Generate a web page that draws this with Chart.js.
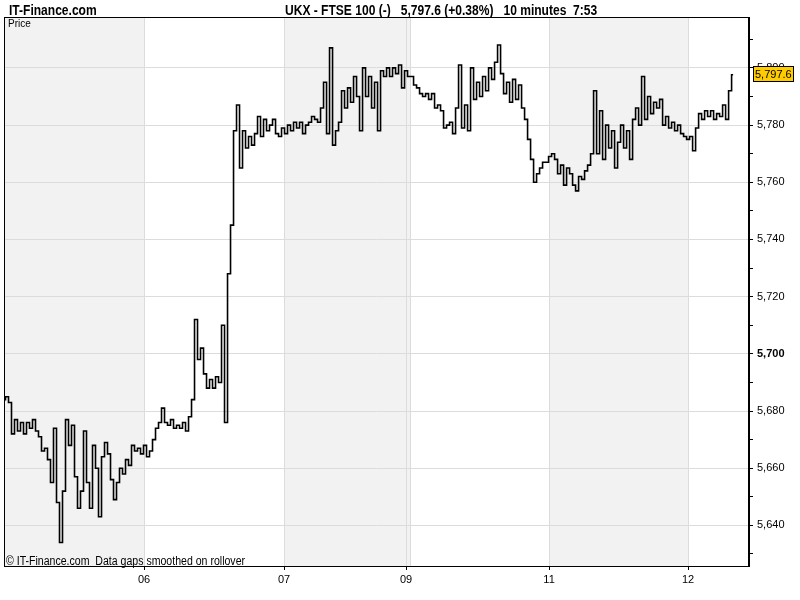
<!DOCTYPE html>
<html>
<head>
<meta charset="utf-8">
<script src="https://cdn.jsdelivr.net/npm/chart.js@4/dist/chart.umd.min.js"></script>
<style>
html, body { margin: 0; padding: 0; background: #fff; }
#wrap { position: relative; width: 800px; height: 600px; }
canvas { position: absolute; left: 0; top: 0; }
.t { position: absolute; font-family: 'Liberation Sans', Arial, sans-serif; color: #000; white-space: pre; line-height: 1; transform-origin: 0 0; }
.n { transform: scaleX(0.86); }
</style>
</head>
<body>
<div id="wrap">
  <canvas id="chart" width="800" height="600"></canvas>
  <div class="t n" style="left:9px;top:3px;font-size:14px;font-weight:bold">IT-Finance.com</div>
  <div class="t n" style="left:285px;top:3px;font-size:14px;font-weight:bold">UKX - FTSE 100 (-)   5,797.6 (+0.38%)   10 minutes  7:53</div>
  <div class="t" style="left:8px;top:19px;font-size:10px">Price</div>
  <div class="t n" style="left:6px;top:555px;font-size:12px;transform:scaleX(0.88)">© IT-Finance.com  Data gaps smoothed on rollover</div>
</div>
<script>
(function () {
    'use strict';

    // 10 minute closes, one list per session
    const day05 = [5684, 5685, 5683, 5672, 5677, 5673, 5676, 5672, 5676, 5674,
        5677, 5673, 5671, 5666, 5667, 5663, 5655, 5674, 5648, 5634,
        5652, 5677, 5668, 5675, 5657, 5646, 5652, 5673, 5655, 5646,
        5668, 5660, 5643, 5664, 5669, 5665, 5656, 5649, 5655, 5660,
        5658, 5663, 5661, 5668, 5666, 5667, 5665];
    const day06 = [5668, 5664, 5666, 5670, 5674, 5676, 5681, 5676, 5675, 5677,
        5674, 5675, 5674, 5676, 5673, 5678, 5684, 5712, 5698, 5702,
        5693, 5688, 5691, 5688, 5692, 5690, 5710, 5676, 5728, 5745,
        5778, 5787, 5765, 5778, 5772, 5776, 5773, 5777, 5783, 5776,
        5782, 5778, 5780, 5782, 5777, 5776, 5779];
    const day07 = [5777, 5780, 5778, 5781, 5779, 5781, 5777, 5780, 5781, 5783,
        5782, 5781, 5786, 5795, 5777, 5807, 5773, 5778, 5781, 5792,
        5786, 5793, 5788, 5797, 5790, 5778, 5800, 5790, 5797, 5786,
        5795, 5778, 5799, 5797, 5800, 5797, 5800, 5798, 5801, 5793,
        5799];
    const day09 = [5797, 5797, 5794, 5793, 5791, 5790, 5791, 5789, 5791, 5786,
        5787, 5785, 5779, 5780, 5781, 5777, 5786, 5801, 5779, 5787,
        5778, 5800, 5789, 5795, 5790, 5797, 5792, 5800, 5796, 5802,
        5808, 5798, 5791, 5795, 5788, 5796, 5789, 5794, 5786, 5782,
        5775, 5768, 5760, 5763, 5765, 5767, 5767];
    const day11 = [5769, 5770, 5768, 5763, 5766, 5759, 5765, 5763, 5759, 5757,
        5762, 5761, 5764, 5766, 5770, 5792, 5770, 5785, 5768, 5780,
        5772, 5778, 5765, 5774, 5780, 5772, 5778, 5768, 5782, 5786,
        5780, 5797, 5782, 5790, 5784, 5788, 5786, 5789, 5780, 5783,
        5779, 5781, 5778, 5780, 5777, 5776];
    const day12 = [5775, 5776, 5771, 5779, 5784, 5782, 5785, 5783, 5785, 5782,
        5784, 5783, 5787, 5782, 5792, 5797.6];

    const prices = [].concat(day05, day06, day07, day09, day11, day12);
    const lastPrice = '5,797.6';

    // session starts, in bar numbers
    const dayLabels = ['06', '07', '09', '11', '12'];
    const dayStarts = [46.67, 93.33, 134, 181.67, 228];
    const shaded = [[0, 46.67], [93.33, 135.3], [181.67, 228]];

    const yMin = 5625.8;
    const yMax = 5817.8;

    const fmt = function (v) { return Math.round(v).toLocaleString('en-US'); };

    const bands = {
        id: 'bands',
        beforeDraw: function (chart) {
            const c = chart.ctx, a = chart.chartArea, x = chart.scales.x;
            c.save();
            c.fillStyle = '#fff';
            c.fillRect(0, 0, chart.width, chart.height);
            c.fillStyle = '#f2f2f2';
            shaded.forEach(function (b) {
                const x0 = x.getPixelForValue(b[0]), x1 = x.getPixelForValue(b[1]);
                c.fillRect(x0, a.top, x1 - x0, a.bottom - a.top);
            });
            c.strokeStyle = '#dcdcdc';
            c.lineWidth = 1;
            const e = Math.round(x.getPixelForValue(shaded[1][1])) + 0.5;
            c.beginPath(); c.moveTo(e, a.top); c.lineTo(e, a.bottom); c.stroke();
            c.restore();
        },
        afterDraw: function (chart) {
            const c = chart.ctx, a = chart.chartArea, y = chart.scales.y;
            c.save();
            c.strokeStyle = '#000';
            c.lineWidth = 1;
            c.strokeRect(a.left + 0.5, a.top + 0.5, a.right - a.left - 1, a.bottom - a.top);
            // last price tag
            const py = Math.round(y.getPixelForValue(prices[prices.length - 1]));
            c.fillStyle = '#ffcc00';
            c.fillRect(a.right + 4, py - 9, 40, 15);
            c.strokeRect(a.right + 4.5, py - 8.5, 40, 15);
            c.fillStyle = '#000';
            c.font = '11px "Liberation Sans", sans-serif';
            c.textBaseline = 'middle';
            c.fillText(lastPrice, a.right + 6, py);
            c.restore();
        }
    };

    const ctx = document.getElementById('chart').getContext('2d');

    new Chart(ctx, {
        type: 'line',
        data: {
            datasets: [{
                data: prices.map(function (p, i) { return { x: i, y: p }; }),
                borderColor: '#000',
                borderWidth: 1.6,
                pointRadius: 0,
                stepped: 'middle'
            }]
        },
        options: {
            responsive: false,
            animation: false,
            devicePixelRatio: 1,
            layout: { padding: { left: 4, top: 17, right: 0, bottom: 0 } },
            plugins: { legend: { display: false }, tooltip: { enabled: false } },
            scales: {
                x: {
                    type: 'linear',
                    min: 0,
                    max: 248.3,
                    afterBuildTicks: function (s) {
                        s.ticks = dayStarts.map(function (v) { return { value: v }; });
                    },
                    afterFit: function (s) { s.height = 34; },
                    ticks: {
                        autoSkip: false,
                        maxRotation: 0,
                        padding: 3,
                        color: '#000',
                        font: { family: "'Liberation Sans', sans-serif", size: 11 },
                        callback: function (v, i) { return dayLabels[i]; }
                    },
                    grid: { color: '#dcdcdc', tickColor: '#000', tickLength: 4 },
                    border: { color: '#000' }
                },
                y: {
                    position: 'right',
                    min: yMin,
                    max: yMax,
                    afterFit: function (s) { s.width = 51; },
                    ticks: {
                        stepSize: 10,
                        includeBounds: false,
                        padding: 4,
                        color: '#000',
                        font: function (c) {
                            const bold = c.tick && Math.round(c.tick.value) === 5700;
                            return { family: "'Liberation Sans', sans-serif", size: 11, weight: bold ? 'bold' : 'normal' };
                        },
                        callback: function (v) { return Math.round(v) % 20 === 0 ? fmt(v) : ''; }
                    },
                    grid: {
                        color: function (c) {
                            return c.tick && Math.round(c.tick.value) % 20 === 0 ? '#dcdcdc' : 'rgba(0,0,0,0)';
                        },
                        tickColor: '#000',
                        tickLength: 4
                    },
                    border: { color: '#000' }
                }
            }
        },
        plugins: [bands]
    });
})();
</script>
</body>
</html>
